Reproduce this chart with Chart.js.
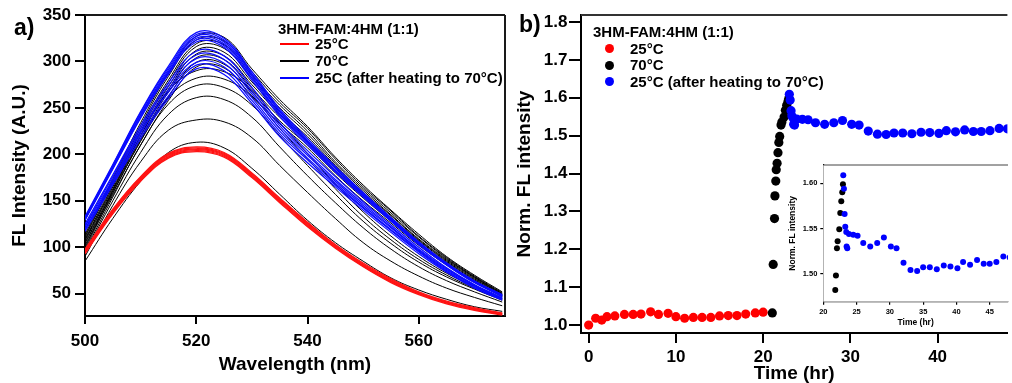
<!DOCTYPE html>
<html><head><meta charset="utf-8">
<script src="https://cdn.jsdelivr.net/npm/chart.js@4.4.0/dist/chart.umd.min.js"></script>
<style>
html,body{margin:0;padding:0;background:#fff;}
#wrap{position:relative;width:1012px;height:383px;overflow:hidden;background:#fff;font-family:"Liberation Sans",Arial,sans-serif;}
canvas{position:absolute;}
.t{position:absolute;font-weight:bold;white-space:nowrap;color:#000;}
.lg{font-size:15px;line-height:18px;}
.ln{position:absolute;height:1.5px;width:29px;}
.dot{position:absolute;width:9px;height:9px;border-radius:50%;}
</style></head><body>
<div id="wrap">
<canvas id="c1" width="512" height="383" style="left:0;top:0"></canvas>
<canvas id="c2" width="507" height="383" style="left:505px;top:0"></canvas>
<canvas id="c3" width="242" height="183" style="left:770px;top:150px"></canvas>

<div class="t" style="left:14px;top:14px;font-size:23px;line-height:26px">a)</div>
<div class="t" style="left:519px;top:11px;font-size:23px;line-height:26px">b)</div>

<div class="t lg" style="left:278px;top:20px">3HM-FAM:4HM (1:1)</div>
<div class="ln" style="left:280px;top:43.3px;background:#ff0000"></div>
<div class="t lg" style="left:315px;top:35.4px">25°C</div>
<div class="ln" style="left:280px;top:60.3px;background:#000"></div>
<div class="t lg" style="left:315px;top:52.4px">70°C</div>
<div class="ln" style="left:280px;top:77.3px;background:#0000ff"></div>
<div class="t lg" style="left:315px;top:69.4px">25C (after heating to 70°C)</div>

<div class="t lg" style="left:593px;top:22.8px">3HM-FAM:4HM (1:1)</div>
<div class="dot" style="left:605px;top:43.8px;background:#ff0000"></div>
<div class="t lg" style="left:630px;top:39.7px">25°C</div>
<div class="dot" style="left:605px;top:60.5px;background:#000"></div>
<div class="t lg" style="left:630px;top:56.4px">70°C</div>
<div class="dot" style="left:605px;top:77.2px;background:#0000ff"></div>
<div class="t lg" style="left:630px;top:73.1px">25°C (after heating to 70°C)</div>
</div>
<script>
// ---------- Panel a) spectra ----------
const wavelengths = [500,505,510,515,520,525,530,535,540,545,550,555,560,565,570,575];
const red25 = [
  [98,141,176,201,208,202,180,153,127,103,83,66,52,42,35,29],
  [97,140,175,200,207,201,179,152,126,102,82,65,51,41,34,29],
  [96,139,174,199,206,200,178,151,125,101,81,64,51,41,34,28],
  [95,138,173,198,205,199,177,150,124,100,80,63,50,40,33,28],
  [94,137,172,197,204,198,176,149,123,100,80,63,50,40,33,28],
  [93,136,171,196,203,197,175,148,122,99,79,62,49,39,32,27]
];
const black70 = [
  [85,131,171,202,213,207,185,157,129,105,85,67,54,44,36,31],
  [90,145,192,226,237,235,218,188,159,131,105,85,69,56,46,37],
  [94,150,202,243,261,259,240,208,177,148,121,98,79,64,52,41],
  [96,154,210,254,274,272,253,220,188,157,128,104,84,68,55,43],
  [98,158,215,261,282,281,262,228,195,163,133,108,87,70,56,44],
  [100,161,220,268,290,289,269,234,201,168,138,112,90,72,58,45],
  [102,156,210,258,294,293,263,233,207,177,150,126,102,81,63,47],
  [104,159,214,262,299,297,267,236,210,180,153,128,104,82,64,47],
  [105,161,217,267,304,302,271,240,214,183,155,130,105,84,65,48],
  [107,163,220,270,308,306,275,243,217,185,157,132,107,85,66,49],
  [108,165,223,273,312,310,278,246,219,188,159,134,108,86,67,49],
  [109,167,225,277,316,314,282,250,222,190,161,135,109,87,68,50],
  [111,170,228,280,319,318,285,253,225,192,163,137,111,88,68,50],
  [112,172,231,284,323,322,289,256,228,195,165,139,112,89,69,51],
  [114,174,234,287,327,326,292,259,230,197,167,140,114,90,70,52]
];
const blueAfter = [
  [117,167,217,260,292,286,255,219,191,165,140,116,93,73,56,43],
  [119,169,220,263,296,290,258,222,194,167,142,118,95,74,57,44],
  [120,171,223,267,299,294,261,225,196,169,143,119,96,75,58,44],
  [122,173,225,270,303,298,265,228,199,171,145,121,97,76,59,45],
  [123,176,228,274,307,302,268,231,201,173,147,122,98,77,59,45],
  [125,178,231,277,311,306,272,234,204,176,149,124,100,78,60,46],
  [129,184,239,286,321,315,280,241,210,181,154,128,103,81,62,47],
  [130,185,240,288,323,317,282,243,212,182,155,129,103,81,62,48],
  [130,186,242,289,325,319,284,244,213,183,156,129,104,82,63,48],
  [131,187,243,291,327,321,286,246,214,185,157,130,105,82,63,48],
  [132,188,245,293,329,323,287,247,215,186,158,131,105,83,63,48],
  [133,189,246,295,331,325,289,249,217,187,159,132,106,83,64,49]
];
const specXTicks = [500,520,540,560];
const specYTicks = [50,100,150,200,250,300,350];

// ---------- Panel b) normalized intensity vs time ----------
const redT = [0,0.8,1.5,2.1,3.0,4.1,5.1,6.0,7.1,8.0,9.1,10.0,11.0,12.0,13.0,14.0,15.0,16.0,17.0,18.0,19.1,20.0];
const redV = [1.000,1.018,1.013,1.022,1.024,1.028,1.028,1.029,1.035,1.028,1.031,1.022,1.018,1.020,1.020,1.020,1.024,1.025,1.025,1.029,1.032,1.034];
const blackT = [21.05,21.15,21.3,21.35,21.45,21.5,21.6,21.7,21.8,21.9,22.05,22.15,22.4,22.55,22.7,22.85,22.95];
const blackV = [1.032,1.160,1.281,1.341,1.380,1.410,1.427,1.455,1.482,1.498,1.528,1.536,1.549,1.567,1.580,1.590,1.599];
const blueT = [23.0,23.1,23.2,23.3,23.45,23.5,23.6,23.85,24.5,25.15,26.0,27.05,28.1,29.1,30.15,31.0,32.05,33.1,34.1,35.0,36.0,37.05,38.1,39.1,40.15,41.0,42.05,43.1,44.1,45.0,46.0,47.05,48.0];
const blueV = [1.609,1.594,1.566,1.552,1.546,1.530,1.528,1.544,1.543,1.542,1.534,1.530,1.534,1.540,1.530,1.528,1.512,1.504,1.503,1.507,1.507,1.505,1.509,1.508,1.506,1.513,1.510,1.515,1.511,1.511,1.513,1.519,1.518];
const timeXTicks = [0,10,20,30,40];
const normYTicks = [1.0,1.1,1.2,1.3,1.4,1.5,1.6,1.7,1.8];
const insetXTicks = [20,25,30,35,40,45];
const insetYTicks = [1.50,1.55,1.60];

Chart.defaults.font.family = '"Liberation Sans", Arial, sans-serif';
Chart.defaults.color = '#000';

const framePlugin = {
  id: 'frame',
  beforeDatasetsDraw(chart, args, o) {
    if (o && o.fillArea) {
      const a = chart.chartArea, c = chart.ctx;
      c.save(); c.fillStyle = '#fff'; c.fillRect(a.left, a.top, a.right - a.left, a.bottom - a.top); c.restore();
    }
  },
  afterDraw(chart, args, o) {
    if (!o) return;
    const a = chart.chartArea, c = chart.ctx;
    c.save(); c.strokeStyle = o.color || '#222'; c.lineWidth = o.width || 2;
    c.beginPath();
    if (o.top) { c.moveTo(a.left, a.top); c.lineTo(a.right, a.top); }
    if (o.right) { c.moveTo(a.right, a.top); c.lineTo(a.right, a.bottom); }
    c.stroke(); c.restore();
  }
};
Chart.register(framePlugin);

function tickSetter(arr) { return s => { s.ticks = arr.map(v => ({value: v})); }; }
function axisCfg(o) {
  return {
    type: 'linear', min: o.min, max: o.max,
    afterBuildTicks: tickSetter(o.ticks),
    afterFit: o.fit,
    grid: {display: true, drawOnChartArea: false, drawTicks: true, tickLength: o.tl, color: '#000', lineWidth: o.lw},
    border: {display: true, color: '#000', width: o.lw},
    ticks: {color: '#000', font: {size: o.fs, weight: 'bold'}, padding: o.pad, autoSkip: false, maxRotation: 0,
            callback: o.fmt || (v => String(v))},
    title: {display: true, text: o.title, color: '#000', font: {size: o.tfs, weight: 'bold', lineHeight: 1}, padding: o.tpad}
  };
}

// Panel a (first dataset is drawn on top)
const specSets = [];
red25.forEach(c => specSets.push({data: c.map((y, i) => ({x: wavelengths[i], y})), borderColor: '#ff1414', borderWidth: 1.3, pointRadius: 0, tension: 0.4, fill: false}));
blueAfter.forEach(c => specSets.push({data: c.map((y, i) => ({x: wavelengths[i], y})), borderColor: '#0a0aff', borderWidth: 1.2, pointRadius: 0, tension: 0.4, fill: false}));
black70.forEach(c => specSets.push({data: c.map((y, i) => ({x: wavelengths[i], y})), borderColor: '#000000', borderWidth: 1, pointRadius: 0, tension: 0.4, fill: false}));

new Chart(document.getElementById('c1'), {
  type: 'line',
  data: {datasets: specSets},
  options: {
    responsive: false, animation: false, events: [],
    layout: {padding: {top: 15, right: 7, left: 0, bottom: 0}},
    plugins: {legend: {display: false}, tooltip: {enabled: false}, frame: {top: true, right: true, width: 2, color: '#1a1a1a'}},
    scales: {
      x: axisCfg({min: 500, max: 575.5, ticks: specXTicks, fit: s => { s.height = 67; }, tl: 8, lw: 2, fs: 17, pad: 7,
                  title: 'Wavelength (nm)', tfs: 19, tpad: {top: 0, bottom: 8.5}}),
      y: axisCfg({min: 26, max: 350, ticks: specYTicks, fit: s => { s.width = 85; }, tl: 10, lw: 2, fs: 17, pad: 4,
                  title: 'FL Intensity (A.U.)', tfs: 19, tpad: {top: 10.5, bottom: 0}})
    }
  }
});

// Panel b
function pts(T, V) { return T.map((t, i) => ({x: t, y: V[i]})); }
function timeSets(r) {
  return [
    {data: pts(blueT, blueV), backgroundColor: '#0000ff', pointRadius: r, pointBorderWidth: 0, showLine: false},
    {data: pts(blackT, blackV), backgroundColor: '#000000', pointRadius: r, pointBorderWidth: 0, showLine: false},
    {data: pts(redT, redV), backgroundColor: '#ff0000', pointRadius: r, pointBorderWidth: 0, showLine: false}
  ];
}

new Chart(document.getElementById('c2'), {
  type: 'scatter',
  data: {datasets: timeSets(4.6)},
  options: {
    responsive: false, animation: false, events: [],
    layout: {padding: {top: 15, right: 0, left: 0, bottom: 0}},
    plugins: {legend: {display: false}, tooltip: {enabled: false}, frame: {top: true, right: false, width: 2, color: '#333'}},
    scales: {
      x: axisCfg({min: -0.88, max: 48.0, ticks: timeXTicks, fit: s => { s.height = 50; }, tl: 10, lw: 2, fs: 17, pad: 4,
                  title: 'Time (hr)', tfs: 19, tpad: {top: 0, bottom: 0}}),
      y: axisCfg({min: 0.979, max: 1.8185, ticks: normYTicks, fit: s => { s.width = 76; }, tl: 12, lw: 2, fs: 17, pad: 1.5,
                  fmt: v => v.toFixed(1), title: 'Norm. FL intensity', tfs: 19, tpad: {top: 10, bottom: 0}})
    }
  }
});

// Inset
new Chart(document.getElementById('c3'), {
  type: 'scatter',
  data: {datasets: timeSets(3)},
  options: {
    responsive: false, animation: false, events: [],
    layout: {padding: {top: 15, right: 0, left: 0, bottom: 0}},
    plugins: {legend: {display: false}, tooltip: {enabled: false}, frame: {top: true, right: false, width: 1, color: '#444', fillArea: true}},
    scales: {
      x: axisCfg({min: 20, max: 47.75, ticks: insetXTicks, fit: s => { s.height = 31.3; }, tl: 3, lw: 1.2, fs: 7.5, pad: 2.5,
                  title: 'Time (hr)', tfs: 8.5, tpad: {top: 0, bottom: 5.75}}),
      y: axisCfg({min: 1.469, max: 1.6202, ticks: insetYTicks, fit: s => { s.width = 53.3; }, tl: 3, lw: 1.2, fs: 7.5, pad: 3,
                  fmt: v => v.toFixed(2), title: 'Norm. FL intensity', tfs: 8.5, tpad: {top: 18.75, bottom: 0}})
    }
  }
});
</script>
</body></html>
